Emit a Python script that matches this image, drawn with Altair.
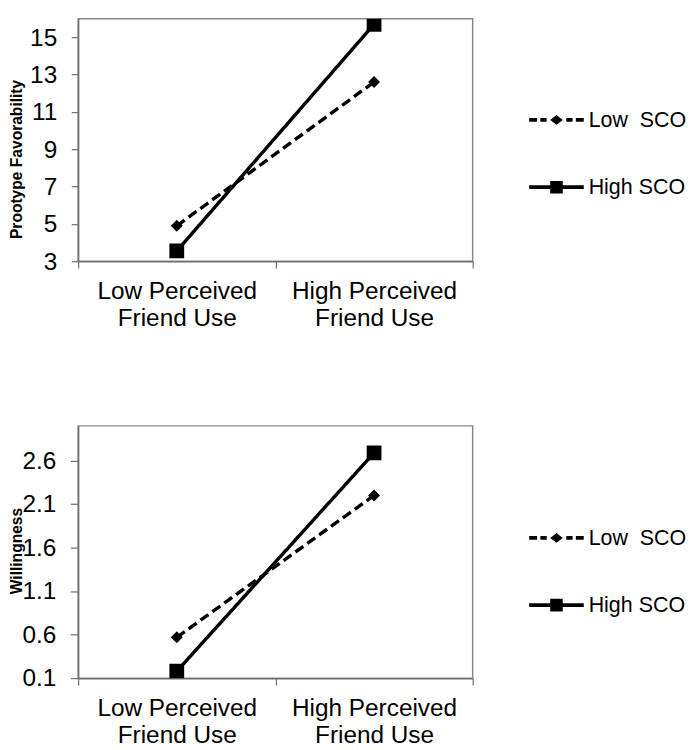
import json
import altair as alt
import pandas as pd

# ---------------- data ----------------
categories = ["Low Perceived Friend Use", "High Perceived Friend Use"]
category_lines = [["Low Perceived", "Friend Use"], ["High Perceived", "Friend Use"]]
series = ["Low\u00a0 SCO", "High SCO"]

fav_low_sco = [4.9, 12.6]
fav_high_sco = [3.55, 15.7]
will_low_sco = [0.57, 2.20]
will_high_sco = [0.18, 2.69]

fav_ticks = [3, 5, 7, 9, 11, 13, 15]
fav_domain = [3, 16]
will_ticks = [0.1, 0.6, 1.1, 1.6, 2.1, 2.6]
will_domain = [0.1, 3.0]

FONT = "Liberation Sans"


def panel_df(low_vals, high_vals):
    rows = []
    for s, vals in zip(series, [low_vals, high_vals]):
        for i, (c, v) in enumerate(zip(categories, vals)):
            rows.append({"series": s, "category": c, "pos": i + 0.5, "value": v})
    return pd.DataFrame(rows)


label_expr = "''"
for i in reversed(range(len(categories))):
    label_expr = f"datum.value == {i} ? {json.dumps(category_lines[i])} : ({label_expr})"


# legend symbols: line + marker as custom paths in [-1, 1] units
def rect(x0, x1, t=0.07):
    return f"M{x0},{-t}H{x1}V{t}H{x0}Z"


diamond_path = "M-0.23,0L0,-0.18L0.23,0L0,0.18Z"
square_path = "M-0.23,-0.23H0.23V0.23H-0.23Z"
legend_paths = [
    rect(-1, -0.71) + rect(-0.59, -0.36) + rect(0.36, 0.59) + rect(0.71, 1) + diamond_path,
    rect(-1, 1) + square_path,
]


def panel(df, ytitle, ticks, domain, fmt, width, height, title_x, title_y,
          legend_x, legend_y, ytick):
    n = len(categories)
    x = alt.X(
        "pos:Q",
        scale=alt.Scale(domain=[0, n], nice=False, zero=False),
        axis=alt.Axis(
            values=list(range(n + 1)),
            labelExpr=label_expr,
            labelOffset=width / (2 * n),
            tickSize=7,
            labelPadding=11,
            labelLineHeight=28,
            labelFlush=False,
            labelOverlap=False,
            labelBound=False,
            labelAlign="center",
            labelBaseline="top",
            title=None,
        ),
    )
    y = alt.Y(
        "value:Q",
        scale=alt.Scale(domain=domain, nice=False, zero=False),
        axis=alt.Axis(
            values=ticks,
            format=fmt,
            tickSize=ytick,
            labelPadding=15,
            labelFlush=False,
            title=ytitle,
            titleX=title_x,
            titleY=title_y,
            titleAngle=270,
            titleBaseline="bottom",
        ),
    )
    base = alt.Chart(df)
    lines = base.mark_line(color="black", strokeWidth=3.5, strokeCap="butt", clip=True).encode(
        x=x,
        y=y,
        detail="series:N",
        strokeDash=alt.StrokeDash(
            "series:N",
            scale=alt.Scale(domain=series, range=[[10, 5], [1, 0]]),
            legend=None,
        ),
    )
    points = base.mark_point(filled=True, color="black", opacity=1, clip=True).encode(
        x=x,
        y=y,
        shape=alt.Shape(
            "series:N",
            scale=alt.Scale(domain=series, range=["diamond", "square"]),
            legend=None,
        ),
        size=alt.Size(
            "series:N",
            scale=alt.Scale(domain=series, range=[150, 230]),
            legend=None,
        ),
    )
    legend_layer = (
        base.transform_filter("false")
        .mark_point(filled=True, color="black", opacity=1)
        .encode(
            shape=alt.Shape(
                "series:N",
                scale=alt.Scale(domain=series, range=legend_paths),
                legend=alt.Legend(
                    title=None,
                    orient="none",
                    legendX=legend_x,
                    legendY=legend_y,
                    symbolSize=3136,
                    symbolStrokeWidth=0,
                    symbolFillColor="black",
                    labelFont=FONT,
                    labelFontSize=22,
                    labelColor="black",
                    labelOffset=5,
                    rowPadding=30,
                    padding=0,
                    labelLimit=400,
                ),
            )
        )
    )
    return (
        alt.layer(lines, points, legend_layer)
        .resolve_scale(shape="independent", size="independent")
        .properties(width=width, height=height)
    )


top = panel(
    panel_df(fav_low_sco, fav_high_sco), "Prootype Favorability", fav_ticks,
    fav_domain, "d", 405, 249, -55, 144, 463, 76, 7,
)
bottom = panel(
    panel_df(will_low_sco, will_high_sco), "Willingness", will_ticks,
    will_domain, ".1f", 405, 259, -55, 128, 463, 87, 8,
)

chart = (
    alt.vconcat(top, bottom, spacing=96)
    .properties(padding=0)
    .configure_view(stroke="#8a8a8a", strokeWidth=1.5)
    .configure_axis(
        labelFont=FONT,
        labelFontSize=25,
        labelColor="black",
        domainColor="#6e6e6e",
        domainWidth=1.5,
        tickColor="#6e6e6e",
        tickWidth=1.2,
        grid=False,
        titleFont=FONT,
        titleFontSize=16,
        titleFontWeight="bold",
        titleColor="black",
    )
)

chart.save("out.html", embed_options={"renderer": "svg", "actions": False})
